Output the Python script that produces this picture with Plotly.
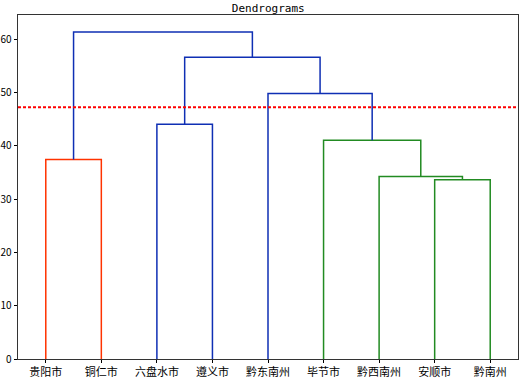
import plotly.graph_objects as go

# Leaf labels in dendrogram order
labels = ["贵阳市", "铜仁市", "六盘水市", "遵义市", "黔东南州", "毕节市", "黔西南州", "安顺市", "黔南州"]

# Merges: (child_a, child_b, height, colour group); new cluster ids start at len(labels)
merge_a = [0, 2, 7, 6, 5, 4, 10, 9]
merge_b = [1, 3, 8, 11, 12, 13, 14, 15]
merge_h = [37.4, 44.0, 33.6, 34.2, 41.0, 49.8, 56.6, 61.3]
merge_c = ["red", "blue", "green", "green", "green", "blue", "blue", "blue"]

threshold = 47.2
title = "Dendrograms"
yticks = [0, 10, 20, 30, 40, 50, 60]

palette = {"red": "#ff3300", "blue": "#0f2fb4", "green": "#228b22"}
FONT = "Noto Sans CJK SC, SimHei, sans-serif"

n = len(labels)
xs = {i: 5 + 10 * i for i in range(n)}
ys = {i: 0.0 for i in range(n)}

fig = go.Figure()
for k, (a, b, h, c) in enumerate(zip(merge_a, merge_b, merge_h, merge_c)):
    node = n + k
    fig.add_trace(go.Scatter(
        x=[xs[a], xs[a], xs[b], xs[b]],
        y=[ys[a], h, h, ys[b]],
        mode="lines",
        line=dict(color=palette[c], width=1.5),
        hoverinfo="skip",
        showlegend=False,
    ))
    xs[node] = (xs[a] + xs[b]) / 2
    ys[node] = h

fig.add_trace(go.Scatter(
    x=[0, 10 * n], y=[threshold, threshold],
    mode="lines",
    line=dict(color="red", width=2, dash="3px,2px"),
    hoverinfo="skip", showlegend=False,
))

fig.update_layout(
    width=526, height=380,
    margin=dict(l=18, r=8, t=15, b=21),
    paper_bgcolor="white", plot_bgcolor="white",
    font=dict(family=FONT, color="black", size=10),
    title=dict(text=title, x=0.51, xanchor="center", y=0.99, yanchor="top",
               font=dict(family="DejaVu Sans Mono, monospace", size=11, color="black")),
)
fig.update_xaxes(
    range=[0, 10 * n], automargin=False,
    tickmode="array", tickvals=[5 + 10 * i for i in range(n)], ticktext=labels,
    ticks="outside", ticklen=3, tickcolor="black",
    showgrid=False, zeroline=False,
    showline=True, linecolor="#333", linewidth=1, mirror=True,
    tickfont=dict(family=FONT, size=11),
)
fig.update_yaxes(
    range=[0, 64.5], automargin=False,
    tickmode="array", tickvals=yticks,
    ticks="outside", ticklen=3.5, tickcolor="black",
    showgrid=False, zeroline=False,
    showline=True, linecolor="#333", linewidth=1, mirror=True,
    tickfont=dict(family=FONT, size=10),
)

fig.write_html(
    "out.html",
    config={"displayModeBar": False},
    post_script="document.body.style.margin='0';document.body.style.overflow='hidden';",
)
